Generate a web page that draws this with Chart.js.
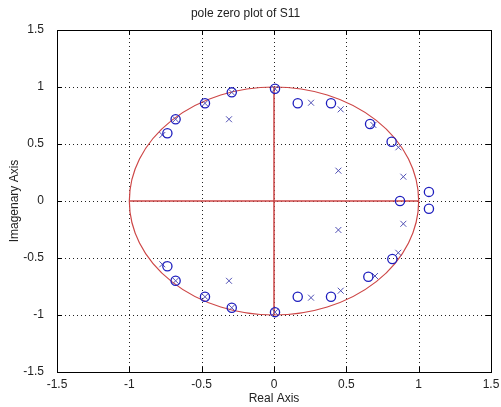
<!DOCTYPE html>
<html>
<head>
<meta charset="utf-8">
<script src="https://cdn.jsdelivr.net/npm/chart.js@4.4.1/dist/chart.umd.min.js"></script>
<style>
html,body{margin:0;padding:0;background:#fff;}
#wrap{width:501px;height:407px;}
</style>
</head>
<body>
<div id="wrap"><canvas id="c" width="501" height="407"></canvas></div>
<script>
// ---- data ----
const chartTitle = 'pole zero plot of S11';
const xAxisTitle = 'Real Axis';
const yAxisTitle = 'Imagenary Axis';
const tickValues = [-1.5, -1, -0.5, 0, 0.5, 1, 1.5];
const tickLabels = ['-1.5', '-1', '-0.5', '0', '0.5', '1', '1.5'];

// zeros (drawn as circles)
const zeroRe = [0.007, 0.164, 0.394, 0.664, 0.813, 1.071, -0.292, -0.477, -0.680, -0.737, 0.871,
                0.007, 0.164, 0.394, 0.652, 0.818, 1.071, -0.292, -0.477, -0.680, -0.737];
const zeroIm = [0.984, 0.857, 0.857, 0.675, 0.520, 0.080, 0.953, 0.857, 0.717, 0.594, 0.000,
                -0.975, -0.840, -0.840, -0.664, -0.509, -0.068, -0.936, -0.840, -0.700, -0.572];

// poles (drawn as crosses)
const poleRe = [0.256, 0.461, 0.687, 0.860, 0.894, 0.445, -0.311, -0.772, 0.007, -0.292, -0.477, -0.680,
                0.256, 0.461, 0.698, 0.859, 0.894, 0.445, -0.311, -0.772, 0.007, -0.292, -0.477, -0.680];
const poleIm = [0.862, 0.804, 0.667, 0.471, 0.213, 0.266, 0.717, 0.579, 0.984, 0.953, 0.857, 0.717,
                -0.848, -0.787, -0.658, -0.454, -0.200, -0.254, -0.700, -0.555, -0.975, -0.936, -0.840, -0.700];

// reference lines (unit circle axes)
const hLineX = [-1, 1], hLineY = [0, 0];
const vLineX = [0, 0], vLineY = [-1, 1];
const unitRadius = 1;

// ---- styling ----
const FONT = "'Liberation Sans', Arial, sans-serif";
const RED = 'rgb(205,70,70)';
const toPts = (xs, ys) => xs.map((v, i) => ({x: v, y: ys[i]}));

const framePlugin = {
  id: 'frame',
  beforeDatasetsDraw(chart) {
    const {ctx, chartArea: a, scales: {x, y}} = chart;
    ctx.save();
    // dotted grid
    ctx.strokeStyle = '#222';
    ctx.lineWidth = 1;
    ctx.setLineDash([1, 3]);
    x.ticks.forEach(t => {
      if (t.value > x.min && t.value < x.max) {
        const px = Math.round(x.getPixelForValue(t.value)) + 0.5;
        ctx.beginPath(); ctx.moveTo(px, a.top); ctx.lineTo(px, a.bottom); ctx.stroke();
      }
    });
    y.ticks.forEach(t => {
      if (t.value > y.min && t.value < y.max) {
        const py = Math.round(y.getPixelForValue(t.value)) + 0.5;
        ctx.beginPath(); ctx.moveTo(a.left, py); ctx.lineTo(a.right, py); ctx.stroke();
      }
    });
    ctx.setLineDash([]);
    // unit circle (appears as ellipse because of unequal axis scaling)
    const cx = x.getPixelForValue(0), cy = y.getPixelForValue(0);
    const rx = x.getPixelForValue(unitRadius) - cx;
    const ry = cy - y.getPixelForValue(unitRadius);
    ctx.strokeStyle = RED;
    ctx.lineWidth = 1.2;
    ctx.beginPath(); ctx.ellipse(cx, cy, rx, ry, 0, 0, Math.PI * 2); ctx.stroke();
    ctx.restore();
  },
  afterDraw(chart) {
    const {ctx, chartArea: a, scales: {x, y}} = chart;
    ctx.save();
    ctx.strokeStyle = '#000';
    ctx.lineWidth = 1;
    ctx.strokeRect(Math.round(a.left) + 0.5, Math.round(a.top) + 0.5,
                   Math.round(a.right - a.left), Math.round(a.bottom - a.top));
    const tl = 5;
    x.ticks.forEach(t => {
      if (t.value > x.min && t.value < x.max) {
        const px = Math.round(x.getPixelForValue(t.value)) + 0.5;
        ctx.beginPath();
        ctx.moveTo(px, a.bottom); ctx.lineTo(px, a.bottom - tl);
        ctx.moveTo(px, a.top); ctx.lineTo(px, a.top + tl);
        ctx.stroke();
      }
    });
    y.ticks.forEach(t => {
      if (t.value > y.min && t.value < y.max) {
        const py = Math.round(y.getPixelForValue(t.value)) + 0.5;
        ctx.beginPath();
        ctx.moveTo(a.left, py); ctx.lineTo(a.left + tl, py);
        ctx.moveTo(a.right, py); ctx.lineTo(a.right - tl, py);
        ctx.stroke();
      }
    });
    ctx.restore();
  }
};

const tickFont = {family: FONT, size: 12};
const fmt = (v) => {
  const i = tickValues.findIndex(t => Math.abs(t - v) < 1e-9);
  return i >= 0 ? tickLabels[i] : '';
};

new Chart(document.getElementById('c'), {
  type: 'scatter',
  data: {
    datasets: [
      {
        label: 'zeros',
        data: toPts(zeroRe, zeroIm),
        pointStyle: 'circle',
        pointRadius: 4.6,
        pointBorderWidth: 1.3,
        pointBorderColor: 'rgb(30,30,190)',
        pointBackgroundColor: 'rgba(0,0,0,0)'
      },
      {
        label: 'poles',
        data: toPts(poleRe, poleIm),
        pointStyle: 'crossRot',
        pointRadius: 4.2,
        pointBorderWidth: 1,
        pointBorderColor: 'rgb(80,80,180)',
        pointBackgroundColor: 'rgba(0,0,0,0)'
      },
      {
        label: 'real',
        data: toPts(hLineX, hLineY),
        showLine: true,
        pointRadius: 0,
        borderColor: RED,
        borderWidth: 1.5
      },
      {
        label: 'imag',
        data: toPts(vLineX, vLineY),
        showLine: true,
        pointRadius: 0,
        borderColor: RED,
        borderWidth: 1.5
      }
    ]
  },
  options: {
    responsive: false,
    animation: false,
    events: [],
    layout: {padding: {left: 0, right: 10, top: 0, bottom: 0}},
    plugins: {
      legend: {display: false},
      tooltip: {enabled: false},
      title: {
        display: true,
        text: chartTitle,
        color: '#222',
        font: {family: FONT, size: 12, weight: 'normal'},
        padding: {top: 6, bottom: 9.6}
      }
    },
    scales: {
      x: {
        type: 'linear',
        min: -1.5, max: 1.5,
        afterBuildTicks: s => { s.ticks = tickValues.map(v => ({value: v})); },
        ticks: {color: '#222', font: tickFont, padding: -3, maxRotation: 0, autoSkip: false, callback: fmt},
        grid: {display: false},
        border: {display: false},
        title: {display: true, text: xAxisTitle, color: '#222', font: tickFont, padding: {top: 0, bottom: 1}},
        afterFit: s => { s.height = 35; }
      },
      y: {
        type: 'linear',
        min: -1.5, max: 1.5,
        afterBuildTicks: s => { s.ticks = tickValues.map(v => ({value: v})); },
        ticks: {color: '#222', font: tickFont, padding: 5, autoSkip: false, callback: fmt},
        grid: {display: false},
        border: {display: false},
        title: {display: true, text: yAxisTitle, color: '#222', font: tickFont, padding: {top: 7, bottom: 0}},
        afterFit: s => { s.width = 57; }
      }
    }
  },
  plugins: [framePlugin]
});
</script>
</body>
</html>
